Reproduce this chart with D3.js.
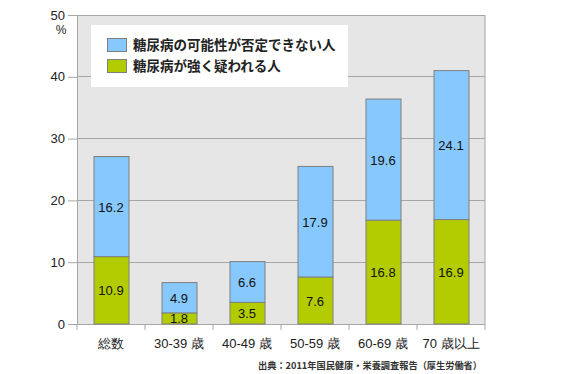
<!DOCTYPE html>
<html><head><meta charset="utf-8">
<script src="https://cdn.jsdelivr.net/npm/d3@7"></script>
<style>body{margin:0;background:#fff}svg{display:block}</style>
</head><body>
<svg id="c" width="562" height="374"></svg>
<script>
const categories = ["総数", "30-39 歳", "40-49 歳", "50-59 歳", "60-69 歳", "70 歳以上"];
const strongly = [10.9, 1.8, 3.5, 7.6, 16.8, 16.9];
const possible = [16.2, 4.9, 6.6, 17.9, 19.6, 24.1];
const yTicks = [0, 10, 20, 30, 40, 50];
const seriesNames = ["糖尿病の可能性が否定できない人", "糖尿病が強く疑われる人"];
const colors = {possible: "#87c8ff", strongly: "#b3cc00"};
const source = "出典：2011年国民健康・栄養調査報告（厚生労働省）";

const svg = d3.select("#c");
const L = 77, R = 485, T = 15, B = 324;
const x = d3.scaleBand().domain(categories).range([L, R]).paddingInner(0.485).paddingOuter(0.2425);
const y = d3.scaleLinear().domain([0, 50]).range([B, T]);
const font = "'Liberation Sans', Arial, sans-serif";
const jp = "'Noto Sans CJK JP', sans-serif";

svg.append("rect").attr("x", L).attr("y", T).attr("width", R - L).attr("height", B - T).attr("fill", "#e6e6e6");
svg.append("g").selectAll("line").data(yTicks.filter(d => d > 0)).join("line")
  .attr("x1", L).attr("x2", R).attr("y1", d => y(d)).attr("y2", d => y(d))
  .attr("stroke", "#a6a6a6").attr("stroke-width", 1).attr("shape-rendering", "crispEdges");

// y axis
const ya = svg.append("g").attr("transform", `translate(${L},0)`)
  .call(d3.axisLeft(y).tickValues(yTicks).tickSize(9).tickPadding(3));
ya.select(".domain").attr("stroke", "#a6a6a6");
ya.selectAll(".tick line").attr("stroke", "#a6a6a6");
ya.selectAll("text").attr("font-family", font).attr("font-size", 13).attr("fill", "#222");
svg.append("text").attr("x", 61).attr("y", 34).attr("text-anchor", "middle")
  .attr("font-family", font).attr("font-size", 12).attr("fill", "#222").text("%");
svg.append("line").attr("x1", R).attr("x2", R).attr("y1", T).attr("y2", B).attr("stroke", "#a6a6a6");

// x axis
svg.append("line").attr("x1", L).attr("x2", R).attr("y1", B + 0.5).attr("y2", B + 0.5).attr("stroke", "#a6a6a6");
const bounds = d3.range(categories.length + 1).map(i => L + i * (R - L) / categories.length);
svg.append("g").selectAll("line").data(bounds).join("line")
  .attr("x1", d => d).attr("x2", d => d).attr("y1", B).attr("y2", B + 6)
  .attr("stroke", "#a6a6a6");
svg.append("g").selectAll("text").data(categories).join("text")
  .attr("x", d => x(d) + x.bandwidth() / 2).attr("y", 348).attr("text-anchor", "middle")
  .attr("font-family", font).attr("font-size", 13).attr("fill", "#222").text(d => d);

// bars
const g = svg.append("g");
categories.forEach((c, i) => {
  const s = strongly[i], p = possible[i];
  g.append("rect").attr("x", x(c) + 0.5).attr("width", x.bandwidth())
    .attr("y", y(s)).attr("height", y(0) - y(s))
    .attr("fill", colors.strongly).attr("stroke", "#7f7f7f");
  g.append("rect").attr("x", x(c) + 0.5).attr("width", x.bandwidth())
    .attr("y", y(s + p)).attr("height", y(s) - y(s + p))
    .attr("fill", colors.possible).attr("stroke", "#7f7f7f");
  const cx = x(c) + x.bandwidth() / 2;
  g.append("text").attr("x", cx).attr("y", (y(0) + y(s)) / 2 + 5).attr("text-anchor", "middle")
    .attr("font-family", font).attr("font-size", 13).attr("fill", "#111").text(s.toFixed(1));
  g.append("text").attr("x", cx).attr("y", (y(s) + y(s + p)) / 2 + 5).attr("text-anchor", "middle")
    .attr("font-family", font).attr("font-size", 13).attr("fill", "#111").text(p.toFixed(1));
});

// legend
svg.append("rect").attr("x", 91).attr("y", 25).attr("width", 257).attr("height", 62).attr("fill", "#fff");
const lg = svg.append("g");
[["possible", 0], ["strongly", 1]].forEach(([k, i]) => {
  lg.append("rect").attr("x", 107.5).attr("y", 38.5 + i * 21).attr("width", 19).attr("height", 13)
    .attr("fill", colors[k]).attr("stroke", "#7f7f7f");
  lg.append("text").attr("x", 133).attr("y", 50 + i * 21).attr("font-family", jp)
    .attr("font-weight", "bold").attr("font-size", 13.5).attr("fill", "#222").text(seriesNames[i]);
});

svg.append("text").attr("x", 258).attr("y", 369).attr("font-family", jp).attr("font-weight", "bold")
  .attr("font-size", 9.5).attr("textLength", 224).attr("lengthAdjust", "spacingAndGlyphs")
  .attr("fill", "#333").text(source);
</script>
</body></html>
